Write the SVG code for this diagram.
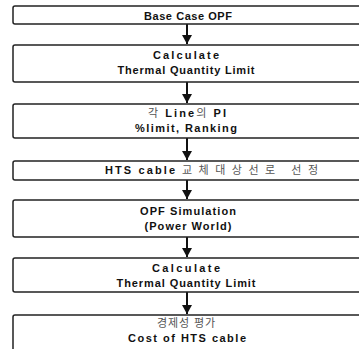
<svg xmlns="http://www.w3.org/2000/svg" width="359" height="349" viewBox="0 0 359 349">
<defs>
<style>
.box{fill:#fff;stroke:#222;stroke-width:1.5}
.t{font-family:"Liberation Sans",Arial,"Noto Sans CJK KR",sans-serif;font-size:11px;font-weight:bold;fill:#111;text-anchor:middle}
.k{font-weight:normal;fill:#555}
.c{stroke:#111;stroke-width:2;fill:none}
</style>
<marker id="ah" markerWidth="10" markerHeight="10" refX="9" refY="5" orient="auto" markerUnits="userSpaceOnUse" viewBox="0 0 10 10">
<path d="M0,0 L9,5 L0,10 Z" fill="#111"/>
</marker>
</defs>
<rect width="359" height="349" fill="#fff"/>
<g id="connectors">
<line class="c" x1="187" y1="24" x2="187" y2="44" marker-end="url(#ah)"/>
<line class="c" x1="187" y1="82" x2="187" y2="103" marker-end="url(#ah)"/>
<line class="c" x1="187" y1="138" x2="187" y2="160" marker-end="url(#ah)"/>
<line class="c" x1="187" y1="180" x2="187" y2="199" marker-end="url(#ah)"/>
<line class="c" x1="187" y1="237" x2="187" y2="257" marker-end="url(#ah)"/>
<line class="c" x1="187" y1="292" x2="187" y2="314" marker-end="url(#ah)"/>
</g>
<g id="n1">
<rect class="box" x="13" y="6" width="360" height="18" rx="2"/>
<text class="t" x="188" y="20" textLength="88" lengthAdjust="spacing">Base Case OPF</text>
</g>
<g id="n2">
<rect class="box" x="13" y="45" width="360" height="37" rx="2"/>
<text class="t" x="186" y="59" textLength="66" lengthAdjust="spacing">Calculate</text>
<text class="t" x="186" y="74" textLength="137" lengthAdjust="spacing">Thermal Quantity Limit</text>
</g>
<g id="n3">
<rect class="box" x="13" y="104" width="360" height="34" rx="2"/>
<text class="t" x="187" y="117" textLength="78" lengthAdjust="spacing"><tspan class="k">각</tspan> Line<tspan class="k">의</tspan> PI</text>
<text class="t" x="186" y="132" textLength="102" lengthAdjust="spacing">%limit, Ranking</text>
</g>
<g id="n4">
<rect class="box" x="13" y="161" width="360" height="19" rx="2"/>
<text class="t" x="140" y="174" textLength="70" lengthAdjust="spacing">HTS cable</text>
<text class="t k" x="250" y="174" textLength="136" lengthAdjust="spacing">교체대상선로 선정</text>
</g>
<g id="n5">
<rect class="box" x="13" y="200" width="360" height="37" rx="2"/>
<text class="t" x="188" y="215" textLength="96" lengthAdjust="spacing">OPF Simulation</text>
<text class="t" x="188" y="230" textLength="87" lengthAdjust="spacing">(Power World)</text>
</g>
<g id="n6">
<rect class="box" x="13" y="258" width="360" height="34" rx="2"/>
<text class="t" x="186" y="272" textLength="68" lengthAdjust="spacing">Calculate</text>
<text class="t" x="186" y="287" textLength="139" lengthAdjust="spacing">Thermal Quantity Limit</text>
</g>
<g id="n7">
<rect class="box" x="13" y="315" width="360" height="50" rx="2"/>
<text class="t k" x="186" y="327" textLength="58" lengthAdjust="spacing">경제성 평가</text>
<text class="t" x="187" y="342" textLength="118" lengthAdjust="spacing">Cost of HTS cable</text>
</g>
</svg>
